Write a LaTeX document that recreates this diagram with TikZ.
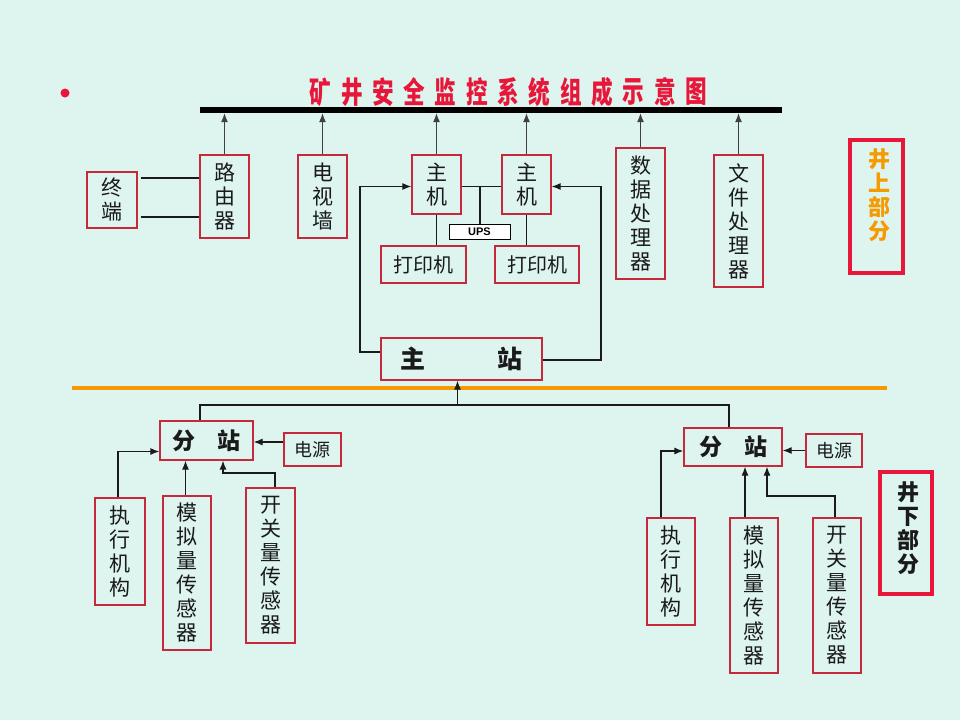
\documentclass[tikz,border=0pt]{standalone}
\usepackage{fontspec}
\newfontfamily\cjk{Noto Sans CJK SC}
\newfontfamily\lib{Liberation Sans}
\usetikzlibrary{arrows.meta,calc}
\definecolor{bg}{HTML}{DDF4EF}
\definecolor{bx}{HTML}{C8283C}
\definecolor{tr}{HTML}{E8173A}
\definecolor{og}{HTML}{F59A00}
\definecolor{tx}{HTML}{1A1A1A}
\newcommand\mybox[6]{\node[box,minimum width=#4pt,minimum height=#5pt] (#1) at (#2,#3) {#6};}
\begin{document}
\begin{tikzpicture}[x=1pt,y=-1pt,
 box/.style={draw=bx, line width=1.3pt, inner sep=0pt, align=center, text=tx, font=\cjk\fontsize{21}{24}\selectfont},
 bold/.style={font=\cjk\bfseries\fontsize{23}{26}\selectfont},
 arr/.style={-{Latex[length=9pt,width=7pt]}, line width=1.1pt, draw=tx},
 ln/.style={line width=1.1pt, draw=tx},
 thick box/.style={draw=tr, line width=4pt, minimum width=#1},
]
\fill[bg] (0,0) rectangle (960,720);
\path[use as bounding box] (0,0) rectangle (960,720);

% bullet and title
\fill[tr] (65,93) circle (4.5);
\foreach \c [count=\i] in {矿,井,安,全,监,控,系,统,组,成,示,意,图}
  \node[text=tr, font=\cjk\bfseries\fontsize{30}{30}\selectfont, inner sep=0pt] (t\i) at (320.5+31.3*\i-31.3,92) {\scalebox{0.72}[1]{\c}};

% bus bar
\node[fill=black, inner sep=0pt, minimum width=582pt, minimum height=6pt] (bar) at (491,110) {};

% upper boxes
\mybox{zd}{112}{200}{50}{56}{终\\端}
\mybox{rt}{224.5}{196.5}{49}{83}{路\\由\\器}
\mybox{tv}{322.5}{196.5}{49}{83}{电\\视\\墙}
\mybox{zjL}{436.5}{184.5}{49}{59}{主\\机}
\mybox{zjR}{526.5}{184.5}{49}{59}{主\\机}
\mybox{sj}{640.5}{213.5}{49}{131}{数\\据\\处\\理\\器}
\mybox{wj}{738.5}{221}{49}{132}{文\\件\\处\\理\\器}
\node[draw=black, fill=white, line width=1pt, inner sep=0pt, minimum width=61pt, minimum height=15pt, font=\lib\bfseries\fontsize{11}{11}\selectfont] (ups) at (479.5,231.5) {UPS};
\node[box, minimum width=85pt, minimum height=37pt, font=\cjk\fontsize{20}{22}\selectfont] (prL) at (423.5,264.5) {打印机};
\node[box, minimum width=84pt, minimum height=37pt, font=\cjk\fontsize{20}{22}\selectfont] (prR) at (537,264.5) {打印机};
\node[box, minimum width=161pt, minimum height=42pt, font=\cjk\bfseries\fontsize{25}{26}\selectfont] (zz) at (461.5,359) {主\hspace{72pt}站};

% upper label
\node[thick box=53pt, minimum height=133pt, inner sep=0pt] (up) at (876.5,206.5) {};
\node[text=og, align=center, inner sep=0pt, font=\cjk\bfseries\fontsize{22}{24}\selectfont] (upt) at (879,195) {井\\上\\部\\分};

% orange divider
\coordinate (oL) at (72,388);
\coordinate (oR) at (887,388);
\draw[og, line width=4pt] (oL) -- (oR);

% lower boxes
\node[box, bold, minimum width=93pt, minimum height=39pt] (fzL) at (206.5,440.5) {分\hspace{22pt}站};
\node[box, minimum width=57pt, minimum height=33pt, font=\cjk\fontsize{18}{20}\selectfont] (dyL) at (312.5,449.5) {电源};
\node[box, bold, minimum width=98pt, minimum height=38pt] (fzR) at (733,447) {分\hspace{22pt}站};
\node[box, minimum width=56pt, minimum height=33pt, font=\cjk\fontsize{18}{20}\selectfont] (dyR) at (834,450.5) {电源};
\mybox{zxL}{120}{551.5}{50}{107}{执\\行\\机\\构}
\mybox{mnL}{187}{573}{48}{154}{模\\拟\\量\\传\\感\\器}
\mybox{kgL}{270.5}{565.5}{49}{155}{开\\关\\量\\传\\感\\器}
\mybox{zxR}{671}{571.5}{48}{107}{执\\行\\机\\构}
\mybox{mnR}{754}{595.5}{48}{155}{模\\拟\\量\\传\\感\\器}
\mybox{kgR}{837}{595.5}{48}{155}{开\\关\\量\\传\\感\\器}

\node[thick box=52pt, minimum height=122pt, inner sep=0pt] (dn) at (906,533) {};
\node[text=tx, align=center, inner sep=0pt, font=\cjk\bfseries\fontsize{22}{24}\selectfont] (dnt) at (908,528) {井\\下\\部\\分};

% arrows up to bus bar
\foreach \n in {rt,tv,zjL,zjR,sj,wj}
  \draw[arr, draw=black!75] (\n.north) -- (\n.north |- bar.south);

% terminal to router
\coordinate (t1) at ([xshift=3pt,yshift=22pt]zd.east);
\coordinate (t2) at ([xshift=3pt,yshift=-17pt]zd.east);
\draw[ln] (t1) -- (t1 -| rt.west);
\draw[ln] (t2) -- (t2 -| rt.west);

% hosts link and UPS
\coordinate (h1) at ([yshift=-2pt]zjL.east);
\coordinate (hu) at (480,186.5);
\draw[ln] (h1) -- (h1 -| zjR.west);
\draw[ln] (hu) -- (hu |- ups.north);
\draw[ln] (zjL.south) -- (zjL.south |- prL.north);
\draw[ln] (zjR.south) -- (zjR.south |- prR.north);

% main station to hosts
\coordinate (lp) at (360,186.5);
\coordinate (rp) at (601,186.5);
\draw[arr] ([yshift=7pt]zz.west) -| (lp) -- (lp -| zjL.west);
\draw[arr] ([yshift=-1pt]zz.east) -| (rp) -- (rp -| zjR.east);

% lower bus to main station
\coordinate (busL) at (200,405);
\coordinate (busR) at (729,405);
\draw[ln] (busL |- fzL.north) -- (busL) -- (busR) -- (busR |- fzR.north);
\draw[arr] ([xshift=-4pt]zz.south |- busL) -- ([xshift=-4pt]zz.south);

% left substation
\coordinate (pL) at ([yshift=7.5pt]dyL.west);
\draw[arr] (pL) -- (pL -| fzL.east);
\coordinate (eL) at ([xshift=-2pt]zxL.north);
\draw[arr] (eL) |- ([yshift=-11pt]fzL.west);
\draw[arr] ([xshift=-1.5pt]mnL.north) -- ([xshift=-1.5pt]mnL.north |- fzL.south);
\coordinate (kL) at (223,473);
\draw[arr] ([xshift=4.5pt]kgL.north) |- (kL) -- (kL |- fzL.south);

% right substation
\draw[arr] (dyR.west) -- (dyR.west -| fzR.east);
\draw[arr] ([xshift=-10pt]zxR.north) |- ([yshift=-4pt]fzR.west);
\coordinate (mR) at ([xshift=-9pt]mnR.north);
\draw[arr] (mR) -- (mR |- fzR.south);
\coordinate (kR) at (767,496);
\draw[arr] ([xshift=-2pt]kgR.north) |- (kR) -- (kR |- fzR.south);
\end{tikzpicture}
\end{document}
